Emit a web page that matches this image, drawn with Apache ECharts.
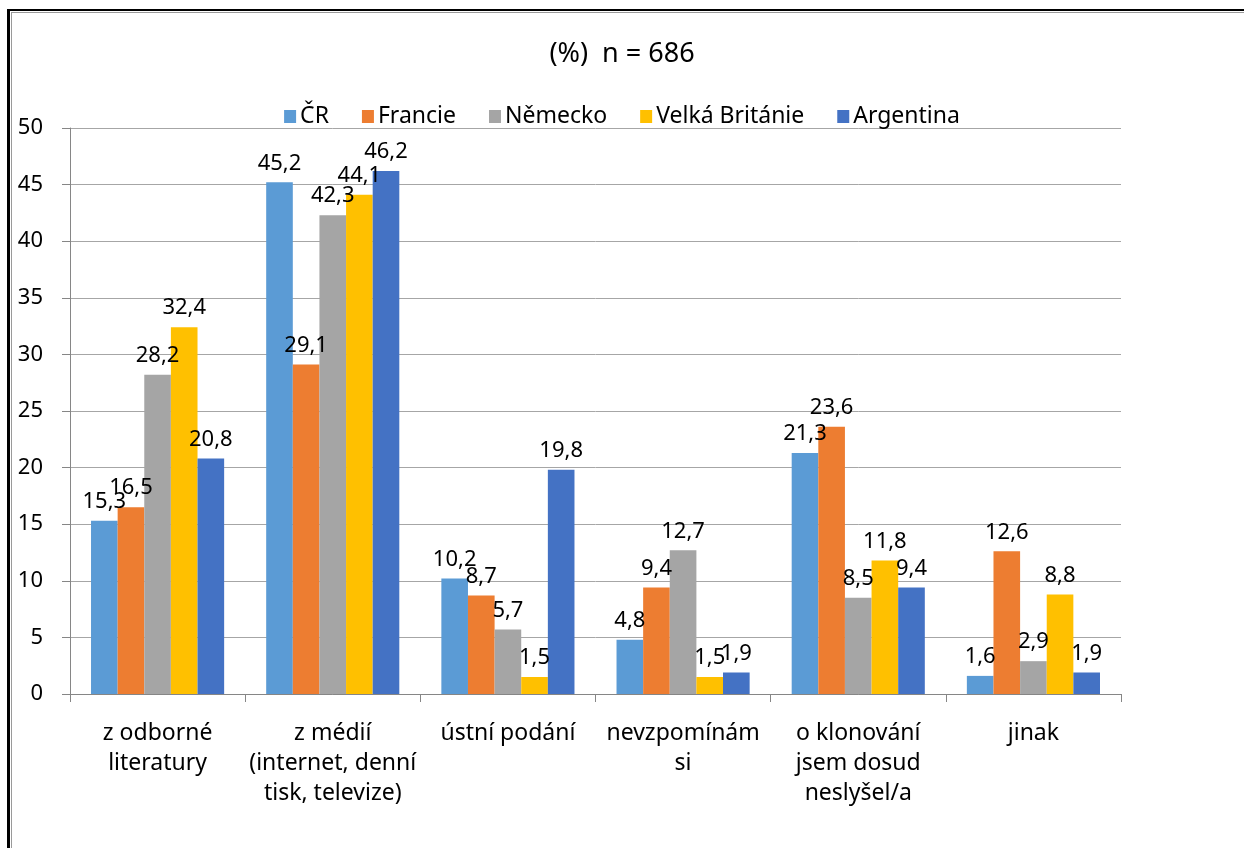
<!DOCTYPE html>
<html>
<head>
<meta charset="utf-8">
<script src="https://cdn.jsdelivr.net/npm/echarts@6/dist/echarts.min.js"></script>
<style>
    html, body { margin: 0; padding: 0; background: #fff; }
    #frame {
        position: absolute; left: 7px; top: 9px; width: 1300px; height: 900px;
        border-left: 3px solid #000; border-top: 2px solid #000;
    }
    #frame-inner {
        position: absolute; left: 1px; top: 1px; width: 1300px; height: 900px;
        border-left: 1px solid #9a9a9a; border-top: 1px solid #9a9a9a;
    }
    #chart { position: absolute; left: 0; top: 0; width: 1244px; height: 848px; }
</style>
</head>
<body>
<div id="frame"><div id="frame-inner"></div></div>
<div id="chart"></div>
<script>
const categories = [
    'z odborné\nliteratury',
    'z médií\n(internet, denní\ntisk, televize)',
    'ústní podání',
    'nevzpomínám\nsi',
    'o klonování\njsem dosud\nneslyšel/a',
    'jinak'
];
const seriesNames = ['ČR', 'Francie', 'Německo', 'Velká Británie', 'Argentina'];
const cr = [15.3, 45.2, 10.2, 4.8, 21.3, 1.6];
const francie = [16.5, 29.1, 8.7, 9.4, 23.6, 12.6];
const nemecko = [28.2, 42.3, 5.7, 12.7, 8.5, 2.9];
const britanie = [32.4, 44.1, 1.5, 1.5, 11.8, 8.8];
const argentina = [20.8, 46.2, 19.8, 1.9, 9.4, 1.9];
const colors = ['#5b9bd5', '#ed7d31', '#a5a5a5', '#ffc000', '#4472c4'];

const font = 'Noto Sans';
const elem = document.getElementById('chart');
const myChart = echarts.init(elem, null, { renderer: 'canvas' });

const values = [cr, francie, nemecko, britanie, argentina];

myChart.setOption({
    animation: false,
    color: colors,
    textStyle: { fontFamily: font },
    title: {
        text: '(%)  n = 686',
        left: 'center',
        top: 36,
        textStyle: { fontFamily: font, fontSize: 27, fontWeight: 'normal', color: '#000' }
    },
    legend: {
        top: 100,
        left: 'center',
        itemWidth: 12,
        itemHeight: 13,
        itemGap: 33,
        icon: 'rect',
        textStyle: { fontFamily: font, fontSize: 23, color: '#000', padding: [0, 0, 0, -1] },
        data: seriesNames
    },
    grid: { left: 70, right: 123, top: 128, bottom: 154, containLabel: false },
    xAxis: {
        type: 'category',
        data: categories,
        axisLine: { lineStyle: { color: '#868686', width: 1 } },
        axisTick: { show: true, length: 8, lineStyle: { color: '#868686' } },
        axisLabel: {
            color: '#000', fontFamily: font, fontSize: 23, lineHeight: 30,
            margin: 24, interval: 0
        }
    },
    yAxis: {
        type: 'value',
        min: 0,
        max: 50,
        interval: 5,
        axisLine: { show: true, lineStyle: { color: '#868686', width: 1 } },
        axisTick: { show: true, length: 8, lineStyle: { color: '#868686' } },
        axisLabel: { color: '#000', fontFamily: font, fontSize: 22, margin: 27 },
        splitLine: { lineStyle: { color: '#a6a6a6', width: 1 } }
    },
    series: seriesNames.map(function (name, i) {
        return {
            name: name,
            type: 'bar',
            data: values[i],
            barGap: '0%',
            barCategoryGap: '24%',
            label: {
                show: true,
                position: 'top',
                distance: 8,
                color: '#000',
                fontFamily: font,
                fontSize: 22,
                formatter: function (p) { return String(p.value).replace('.', ','); }
            }
        };
    })
});
</script>
</body>
</html>
